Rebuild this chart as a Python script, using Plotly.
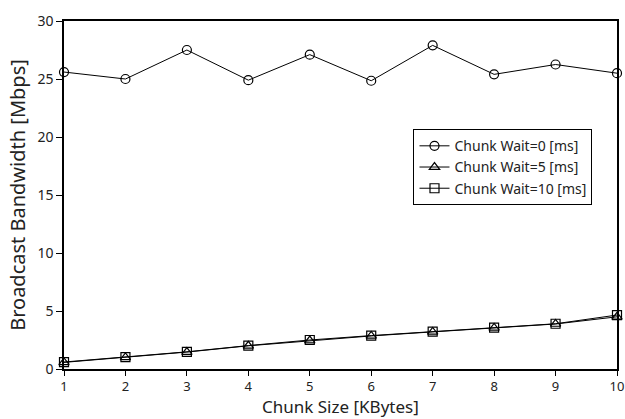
import plotly.graph_objects as go

chunk_size = [1, 2, 3, 4, 5, 6, 7, 8, 9, 10]
wait0 = [25.6, 25.0, 27.5, 24.9, 27.1, 24.85, 27.9, 25.4, 26.25, 25.5]
wait5 = [0.57, 1.0, 1.46, 2.0, 2.45, 2.85, 3.2, 3.54, 3.88, 4.5]
wait10 = [0.6, 1.02, 1.48, 2.02, 2.5, 2.88, 3.22, 3.56, 3.9, 4.65]
names = ["Chunk Wait=0 [ms]", "Chunk Wait=5 [ms]", "Chunk Wait=10 [ms]"]
symbols = ["circle-open", "triangle-up-open", "square-open"]
x_title = "Chunk Size [KBytes]"
y_title = "Broadcast Bandwidth [Mbps]"

FONT = "Noto Sans, Open Sans, sans-serif"
fig = go.Figure()
for ys, nm, sym in zip([wait0, wait5, wait10], names, symbols):
    fig.add_trace(go.Scatter(
        x=chunk_size, y=ys, name=nm, mode="lines+markers",
        line=dict(color="black", width=1),
        marker=dict(symbol=sym, size=9, color="black", line=dict(width=1.2, color="black")),
        cliponaxis=False,
    ))

fig.add_annotation(
    text=x_title, xref="paper", yref="paper", x=0.5, y=0,
    xanchor="center", yanchor="bottom", yshift=-50, showarrow=False,
    borderpad=0, font=dict(size=17, family=FONT, color="#222"),
)

fig.update_layout(
    width=625, height=419,
    margin=dict(l=64, r=1, t=21, b=50),
    paper_bgcolor="white", plot_bgcolor="white",
    font=dict(family=FONT, color="#222", size=13),
    showlegend=True,
    legend=dict(
        x=0.632, y=0.689, xanchor="left", yanchor="top",
        bgcolor="white", bordercolor="black", borderwidth=1,
        font=dict(size=14, family=FONT), itemwidth=30, tracegroupgap=0,
    ),
    xaxis=dict(
        range=[1, 10], tickvals=chunk_size, ticks="outside", ticklen=5,
        tickcolor="black", showline=True, linecolor="black", linewidth=1.5,
        mirror=True, showgrid=False, zeroline=False,
        ticklabeloverflow="allow", ticklabelstandoff=0,
        tickfont=dict(size=13),
    ),
    yaxis=dict(
        range=[0, 30], dtick=5, ticks="outside", ticklen=6,
        tickcolor="black", showline=True, linecolor="black", linewidth=1.5,
        mirror=True, showgrid=False, zeroline=False,
        title=dict(text=y_title, font=dict(size=20), standoff=6),
        tickfont=dict(size=14),
    ),
)
fig.write_html("out.html")
